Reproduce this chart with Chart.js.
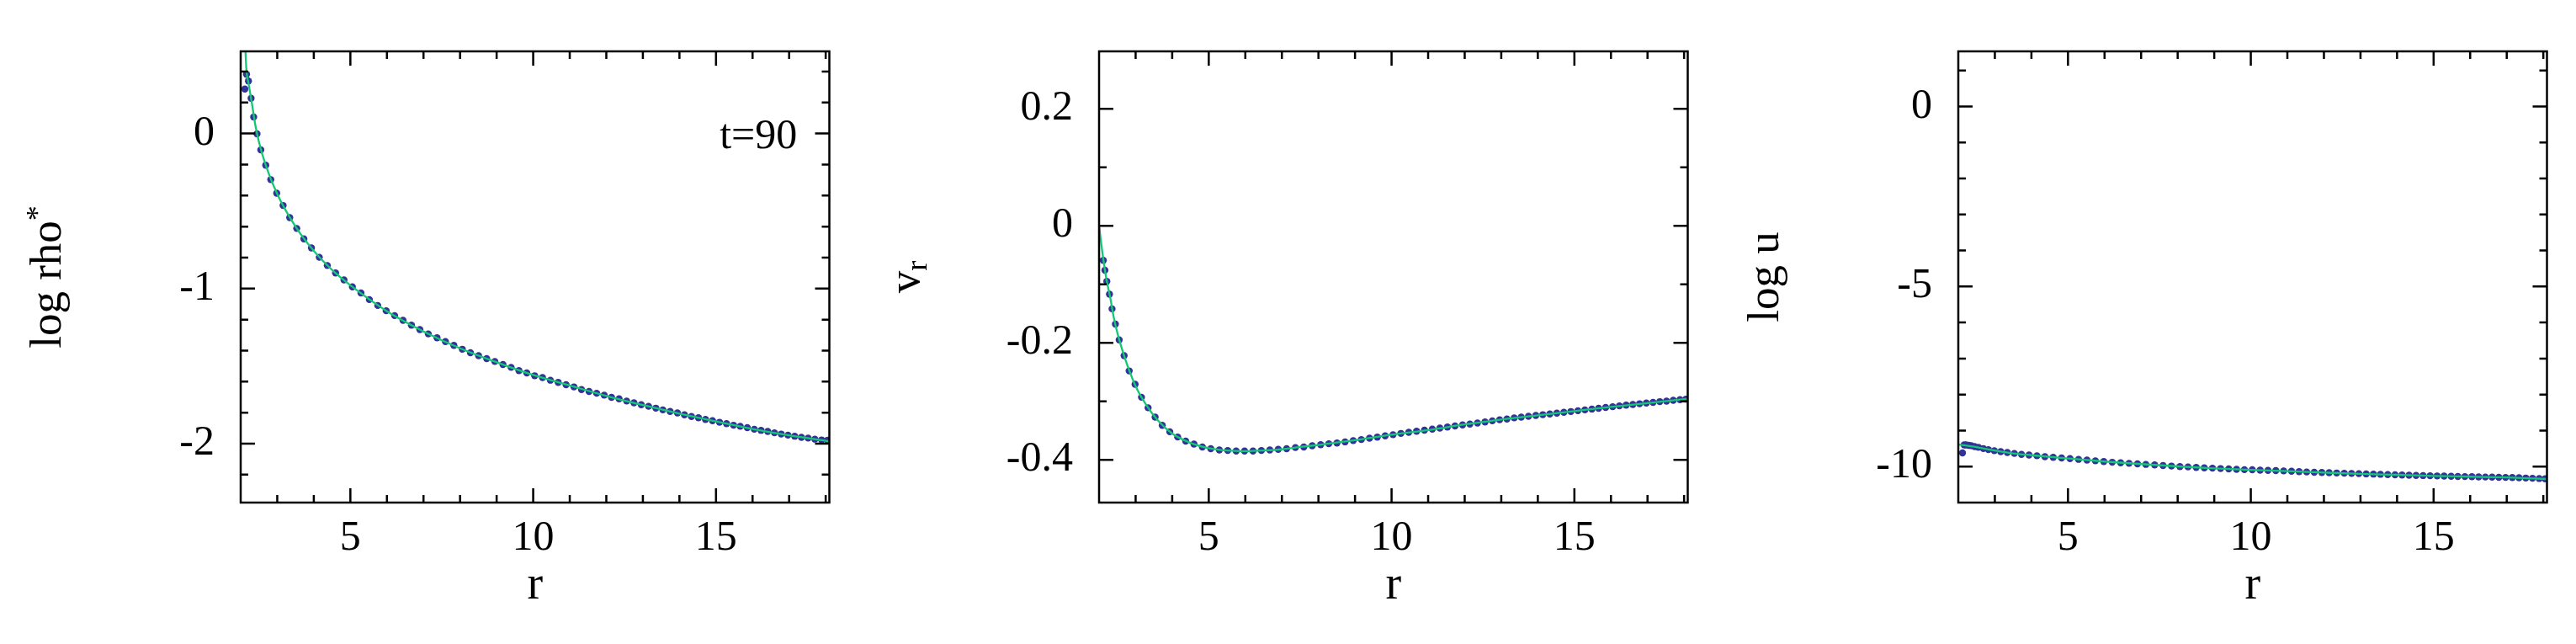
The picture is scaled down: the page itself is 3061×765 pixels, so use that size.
<!DOCTYPE html>
<html><head><meta charset="utf-8">
<script src="https://cdn.jsdelivr.net/npm/chart.js@4/dist/chart.umd.min.js"></script>
<style>
html,body{margin:0;padding:0;background:#fff;}
#wrap{position:relative;width:3061px;height:765px;overflow:hidden;background:#fff;}
canvas{position:absolute;top:0;}
</style></head><body>
<div id="wrap">
<canvas id="c1" width="1020" height="765" style="left:0px"></canvas>
<canvas id="c2" width="1020" height="765" style="left:1020px"></canvas>
<canvas id="c3" width="1020" height="765" style="left:2041px"></canvas>
</div>
<script>
// ---------- data ----------
// radius of each simulation cell (shared by all three panels)
const r = [2.115, 2.160, 2.212, 2.285, 2.355, 2.447, 2.550, 2.685, 2.823, 2.985,
  3.160, 3.341, 3.533, 3.728, 3.935, 4.150, 4.369, 4.595, 4.825, 5.055,
  5.289, 5.519, 5.749, 5.979, 6.210, 6.440, 6.670, 6.900, 7.130, 7.370,
  7.600, 7.830, 8.061, 8.283, 8.506, 8.728, 8.951, 9.173, 9.396, 9.610,
  9.825, 10.040, 10.255, 10.470, 10.684, 10.899, 11.114, 11.321, 11.528, 11.735,
  11.942, 12.142, 12.349, 12.556, 12.756, 12.955, 13.155, 13.354, 13.546, 13.745,
  13.945, 14.137, 14.328, 14.520, 14.712, 14.904, 15.096, 15.287, 15.479, 15.663,
  15.855, 16.047, 16.231, 16.415, 16.599, 16.783, 16.968, 17.152, 17.336, 17.520,
  17.704, 17.888, 18.049];

const logRho = [0.287, 0.382, 0.339, 0.227, 0.107, -0.002, -0.105, -0.204, -0.297, -0.385,
  -0.464, -0.542, -0.612, -0.679, -0.738, -0.798, -0.851, -0.899, -0.944, -0.989,
  -1.028, -1.071, -1.109, -1.143, -1.174, -1.205, -1.236, -1.264, -1.292, -1.317,
  -1.342, -1.366, -1.391, -1.414, -1.433, -1.452, -1.470, -1.490, -1.508, -1.529,
  -1.544, -1.562, -1.574, -1.591, -1.605, -1.620, -1.634, -1.651, -1.663, -1.675,
  -1.687, -1.701, -1.711, -1.725, -1.737, -1.749, -1.759, -1.771, -1.782, -1.792,
  -1.802, -1.814, -1.825, -1.833, -1.844, -1.852, -1.862, -1.871, -1.881, -1.888,
  -1.897, -1.907, -1.914, -1.921, -1.930, -1.938, -1.945, -1.952, -1.959, -1.964,
  -1.971, -1.976, -1.978];

const vr = [-0.059, -0.076, -0.095, -0.117, -0.142, -0.168, -0.195, -0.222, -0.248, -0.271,
  -0.293, -0.311, -0.327, -0.341, -0.352, -0.361, -0.368, -0.373, -0.378, -0.381,
  -0.383, -0.384, -0.385, -0.385, -0.385, -0.384, -0.383, -0.382, -0.381, -0.379,
  -0.378, -0.376, -0.374, -0.3725, -0.3712, -0.3693, -0.3671, -0.3653, -0.3630, -0.3612,
  -0.3589, -0.3570, -0.3548, -0.3529, -0.3511, -0.3493, -0.3475, -0.3456, -0.3438, -0.3420,
  -0.3402, -0.3388, -0.3370, -0.3352, -0.3333, -0.3315, -0.3302, -0.3283, -0.3270, -0.3256,
  -0.3242, -0.3228, -0.3215, -0.3201, -0.3187, -0.3174, -0.3160, -0.3146, -0.3132, -0.3119,
  -0.3105, -0.3092, -0.3078, -0.3064, -0.3055, -0.3041, -0.3028, -0.3019, -0.3005, -0.2996,
  -0.2982, -0.2972, -0.2963];

const logU = [-9.62, -9.40, -9.40, -9.41, -9.42, -9.445, -9.465, -9.50, -9.53, -9.56,
  -9.585, -9.61, -9.635, -9.66, -9.68, -9.70, -9.725, -9.745, -9.76, -9.78,
  -9.80, -9.82, -9.84, -9.86, -9.88, -9.895, -9.91, -9.925, -9.94, -9.955,
  -9.97, -9.985, -10.0, -10.01, -10.025, -10.035, -10.045, -10.055, -10.065, -10.075,
  -10.085, -10.09, -10.10, -10.105, -10.11, -10.12, -10.13, -10.14, -10.15, -10.157,
  -10.164, -10.171, -10.178, -10.185, -10.191, -10.197, -10.203, -10.209, -10.215, -10.221,
  -10.227, -10.233, -10.239, -10.245, -10.25, -10.255, -10.26, -10.265, -10.27, -10.274,
  -10.278, -10.282, -10.286, -10.29, -10.294, -10.298, -10.302, -10.306, -10.31, -10.318,
  -10.325, -10.332, -10.34];

// analytic (green) curves
const rRhoLine = [2.12, 2.16, 2.21, 2.3, 2.4, 2.5, 2.7, 3.0, 3.5, 4, 4.5, 5, 6, 7, 8, 9, 10, 11, 12, 13, 14, 15, 16, 17, 18.1];
const rhoLine  = [0.58, 0.40, 0.33, 0.205, 0.055, -0.055, -0.215, -0.39, -0.60, -0.757, -0.88, -0.979, -1.146, -1.276, -1.385, -1.475, -1.557, -1.625, -1.692, -1.751, -1.806, -1.857, -1.905, -1.946, -1.985];

const rVLine = [2.0, 2.05, 2.12, 2.2, 2.3, 2.4, 2.5, 2.7, 3.0, 3.3, 3.6, 4, 4.5, 5, 5.5, 6, 6.5, 7, 7.5, 8, 9, 10, 11, 12, 13, 14, 15, 16, 17, 18.1];
const vLine  = [0.0, -0.026, -0.059, -0.091, -0.121, -0.156, -0.183, -0.225, -0.274, -0.307, -0.332, -0.355, -0.371, -0.380, -0.384, -0.385, -0.384, -0.382, -0.378, -0.3745, -0.3665, -0.357, -0.349, -0.3395, -0.331, -0.3238, -0.3167, -0.3095, -0.303, -0.2957];

const rULine = [2.0, 2.2, 2.4, 2.7, 3.0, 3.5, 4, 5, 6, 7, 8, 9, 10, 11, 12, 13, 14, 15, 16, 17, 18.1];
const uLine  = [-9.39, -9.415, -9.44, -9.50, -9.555, -9.635, -9.685, -9.775, -9.86, -9.93, -9.995, -10.05, -10.09, -10.125, -10.166, -10.204, -10.228, -10.259, -10.281, -10.303, -10.345];

// ticks
const xTickLabels = [5, 10, 15];
const xMinorTicks = [3, 4, 6, 7, 8, 9, 11, 12, 13, 14, 16, 17, 18];
const rhoTickLabels = [0, -1, -2];
const rhoMinorTicks = [0.4, 0.2, -0.2, -0.4, -0.6, -0.8, -1.2, -1.4, -1.6, -1.8, -2.2];
const vTickLabels = [0.2, 0, -0.2, -0.4];
const vMinorTicks = [0.1, -0.1, -0.3];
const uTickLabels = [0, -5, -10];
const uMinorTicks = [1, -1, -2, -3, -4, -6, -7, -8, -9];

// ---------- drawing ----------
const FONT = '"Liberation Serif", "Times New Roman", Times, serif';
const GREEN = '#12c877';
const BLUE = '#323298';

const framePlugin = {
  id: 'frame',
  afterDatasetsDraw(chart, args, opts) {
    const {ctx, chartArea: a, scales: {x, y}} = chart;
    ctx.save();
    ctx.strokeStyle = '#000';
    ctx.lineWidth = 2.5;
    ctx.lineCap = 'butt';
    ctx.beginPath();
    const xt = (v, len) => {
      const p = x.getPixelForValue(v);
      ctx.moveTo(p, a.bottom); ctx.lineTo(p, a.bottom - len);
      ctx.moveTo(p, a.top); ctx.lineTo(p, a.top + len);
    };
    const yt = (v, len) => {
      const p = y.getPixelForValue(v);
      ctx.moveTo(a.left, p); ctx.lineTo(a.left + len, p);
      ctx.moveTo(a.right, p); ctx.lineTo(a.right - len, p);
    };
    opts.xMajor.forEach(v => xt(v, 17));
    opts.xMinor.forEach(v => xt(v, 9));
    opts.yMajor.forEach(v => yt(v, 17));
    opts.yMinor.forEach(v => yt(v, 9));
    ctx.stroke();
    ctx.strokeRect(a.left, a.top, a.right - a.left, a.bottom - a.top);
    ctx.restore();
  }
};

const yTitlePlugin = {
  id: 'ytitle',
  afterDraw(chart, args, opts) {
    const {ctx, chartArea: a} = chart;
    const cy = (a.top + a.bottom) / 2;
    ctx.save();
    ctx.translate(opts.baseX, cy);
    ctx.rotate(-Math.PI / 2);
    ctx.fillStyle = '#000';
    ctx.textBaseline = 'alphabetic';
    ctx.textAlign = 'left';
    let total = 0;
    const widths = opts.parts.map(p => {
      ctx.font = p.size + 'px ' + FONT;
      const w = ctx.measureText(p.t).width;
      total += w;
      return w;
    });
    let xx = -total / 2;
    opts.parts.forEach((p, i) => {
      ctx.font = p.size + 'px ' + FONT;
      ctx.fillText(p.t, xx, p.dy || 0);
      xx += widths[i];
    });
    ctx.restore();
  }
};

const notePlugin = {
  id: 'note',
  afterDatasetsDraw(chart, args, opts) {
    if (!opts.text) return;
    const {ctx, scales: {x, y}} = chart;
    ctx.save();
    ctx.fillStyle = '#000';
    ctx.font = '50px ' + FONT;
    ctx.textAlign = 'right';
    ctx.textBaseline = 'middle';
    ctx.fillText(opts.text, x.getPixelForValue(opts.x), y.getPixelForValue(opts.y) + 4);
    ctx.restore();
  }
};

function makePanel(id, ptsY, lineR, lineY, yMin, yMax, yLabels, yMinor, titleParts, note) {
  const ctx = document.getElementById(id).getContext('2d');
  return new Chart(ctx, {
    type: 'line',
    data: {
      datasets: [
        {
          data: lineR.map((xv, i) => ({x: xv, y: lineY[i]})),
          borderColor: GREEN, borderWidth: 2.3, pointRadius: 0,
          cubicInterpolationMode: 'monotone', fill: false, order: 0
        },
        {
          data: r.map((xv, i) => ({x: xv, y: ptsY[i]})),
          showLine: false, pointRadius: 4.2, pointBackgroundColor: BLUE,
          pointBorderWidth: 0, pointBorderColor: BLUE, order: 1
        }
      ]
    },
    options: {
      responsive: false, animation: false, devicePixelRatio: 1,
      layout: {padding: {top: 33, right: 34.5, left: 0, bottom: 0}},
      scales: {
        x: {
          type: 'linear', min: 2, max: 18.1,
          afterBuildTicks: s => { s.ticks = xTickLabels.map(v => ({value: v})); },
          afterFit: s => { s.height = 168; },
          grid: {display: false, drawTicks: false}, border: {display: false},
          ticks: {font: {family: FONT, size: 50}, color: '#000', padding: 13,
                  maxRotation: 0, autoSkip: false, callback: v => String(v)},
          title: {display: true, text: 'r', color: '#000',
                  font: {family: FONT, size: 56}, padding: {top: 0, bottom: 35}}
        },
        y: {
          type: 'linear', min: yMin, max: yMax,
          afterBuildTicks: s => { s.ticks = yLabels.map(v => ({value: v})); },
          afterFit: s => { s.width = 286; },
          grid: {display: false, drawTicks: false}, border: {display: false},
          ticks: {font: {family: FONT, size: 50}, color: '#000', padding: 31,
                  autoSkip: false, callback: v => String(v)}
        }
      },
      plugins: {
        legend: {display: false}, tooltip: {enabled: false},
        frame: {xMajor: xTickLabels, xMinor: xMinorTicks, yMajor: yLabels, yMinor: yMinor},
        ytitle: {baseX: 72, parts: titleParts},
        note: note || {}
      }
    },
    plugins: [framePlugin, yTitlePlugin, notePlugin]
  });
}

makePanel('c1', logRho, rRhoLine, rhoLine, -2.38, 0.53, rhoTickLabels, rhoMinorTicks,
  [{t: 'log rho', size: 53}, {t: '*', size: 36, dy: -16}], {text: 't=90', x: 17.22, y: 0});
makePanel('c2', vr, rVLine, vLine, -0.473, 0.298, vTickLabels, vMinorTicks,
  [{t: 'v', size: 53}, {t: 'r', size: 36, dy: 9}]);
makePanel('c3', logU, rULine, uLine, -11, 1.53, uTickLabels, uMinorTicks,
  [{t: 'log u', size: 53}]);
</script>
</body></html>
